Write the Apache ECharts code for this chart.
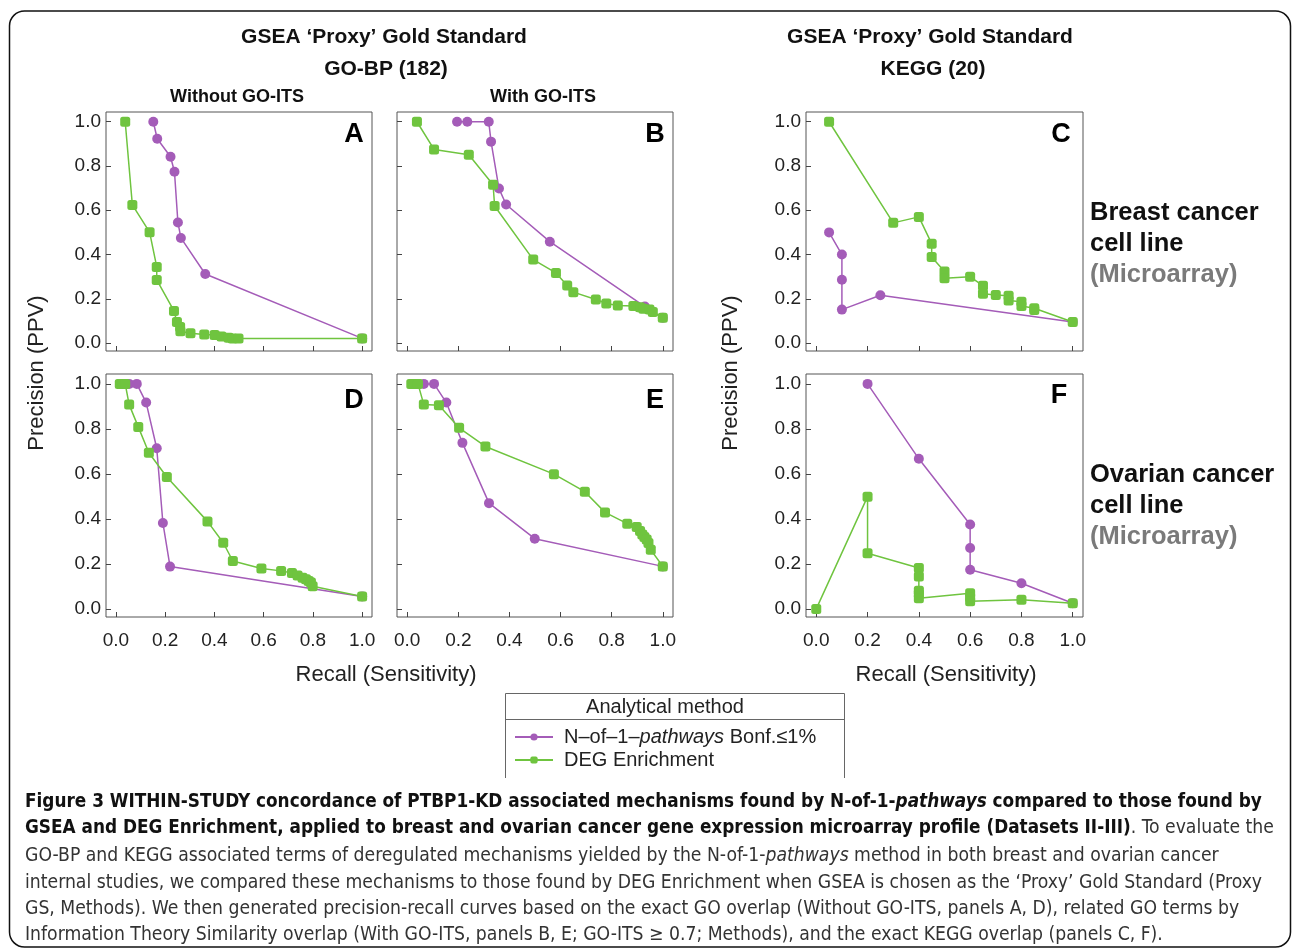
<!DOCTYPE html>
<html lang="en">
<head>
<meta charset="UTF-8">
<title>Precision-recall, PTBP1-KD</title>
<script src="https://cdn.jsdelivr.net/npm/echarts@6/dist/echarts.min.js"></script>
<style>
    html, body { margin: 0; padding: 0; background: #fff; }
    #chart { width: 1293px; height: 952px; }
</style>
</head>
<body>
<div id="chart"></div>
<script>
    // ---- data: [recall, precision] ----
    var tickValues = [0, 0.2, 0.4, 0.6, 0.8, 1.0];
    var seriesNames = ['N–of–1–pathways Bonf.≤1%', 'DEG Enrichment'];
    var panelLetters = ['A', 'B', 'C', 'D', 'E', 'F'];

    // A: GO-BP, without GO-ITS, breast
    var n1A = [[0.152, 1.0], [0.168, 0.923], [0.222, 0.842], [0.238, 0.774], [0.252, 0.545], [0.264, 0.475], [0.363, 0.312], [1.0, 0.021]];
    var degA = [[0.038, 1.0], [0.067, 0.624], [0.137, 0.501], [0.166, 0.344], [0.166, 0.285], [0.236, 0.145], [0.248, 0.095], [0.261, 0.072], [0.262, 0.053],
        [0.303, 0.044], [0.359, 0.039], [0.401, 0.036], [0.429, 0.029], [0.458, 0.024], [0.474, 0.021], [0.498, 0.020], [1.0, 0.021]];
    // B: GO-BP, with GO-ITS, breast
    var n1B = [[0.195, 1.0], [0.235, 1.0], [0.319, 1.0], [0.328, 0.910], [0.359, 0.698], [0.387, 0.626], [0.558, 0.458], [0.93, 0.165], [1.0, 0.114]];
    var degB = [[0.038, 1.0], [0.105, 0.875], [0.241, 0.851], [0.336, 0.715], [0.342, 0.619], [0.493, 0.377], [0.582, 0.317], [0.626, 0.260], [0.650, 0.230],
        [0.738, 0.197], [0.779, 0.179], [0.824, 0.170], [0.885, 0.167], [0.911, 0.162], [0.924, 0.155], [0.948, 0.152], [0.961, 0.140], [1.0, 0.114]];
    // C: KEGG, breast
    var n1C = [[0.05, 0.50], [0.10, 0.40], [0.10, 0.286], [0.10, 0.151], [0.25, 0.216], [1.0, 0.095]];
    var degC = [[0.05, 1.0], [0.30, 0.543], [0.40, 0.570], [0.45, 0.449], [0.45, 0.389], [0.50, 0.323], [0.50, 0.293], [0.60, 0.299], [0.65, 0.259],
        [0.65, 0.223], [0.70, 0.217], [0.75, 0.214], [0.75, 0.192], [0.80, 0.187], [0.80, 0.167], [0.85, 0.157], [0.85, 0.149], [1.0, 0.095]];
    // D: GO-BP, without GO-ITS, ovarian
    var n1D = [[0.054, 1.0], [0.085, 1.0], [0.123, 0.917], [0.166, 0.714], [0.191, 0.382], [0.220, 0.188], [1.0, 0.055]];
    var degD = [[0.016, 1.0], [0.027, 1.0], [0.038, 1.0], [0.054, 0.908], [0.091, 0.809], [0.134, 0.694], [0.207, 0.586], [0.372, 0.389], [0.436, 0.294],
        [0.475, 0.213], [0.591, 0.180], [0.671, 0.169], [0.715, 0.160], [0.738, 0.148], [0.758, 0.139], [0.772, 0.132], [0.783, 0.124], [0.792, 0.117],
        [0.799, 0.101], [1.0, 0.055]];
    // E: GO-BP, with GO-ITS, ovarian
    var n1E = [[0.065, 1.0], [0.105, 1.0], [0.153, 0.917], [0.216, 0.738], [0.320, 0.470], [0.499, 0.312], [1.0, 0.189]];
    var degE = [[0.016, 1.0], [0.026, 1.0], [0.042, 1.0], [0.065, 0.908], [0.124, 0.905], [0.203, 0.805], [0.306, 0.722], [0.574, 0.599], [0.695, 0.521],
        [0.774, 0.429], [0.861, 0.379], [0.898, 0.364], [0.911, 0.346], [0.920, 0.331], [0.928, 0.320], [0.937, 0.308], [0.944, 0.293], [0.953, 0.263], [1.0, 0.189]];
    // F: KEGG, ovarian
    var n1F = [[0.2, 1.0], [0.4, 0.667], [0.6, 0.375], [0.6, 0.271], [0.6, 0.174], [0.8, 0.114], [1.0, 0.025]];
    var degF = [[0.0, 0.0], [0.2, 0.499], [0.2, 0.247], [0.4, 0.182], [0.4, 0.144], [0.4, 0.081], [0.4, 0.067], [0.4, 0.047], [0.6, 0.070], [0.6, 0.052],
        [0.6, 0.034], [0.8, 0.041], [1.0, 0.025]];

    var n1Data = [n1A, n1B, n1C, n1D, n1E, n1F];
    var degData = [degA, degB, degC, degD, degE, degF];

    // ---- layout / style ----
    var FONT = "'Liberation Sans', Arial, sans-serif";
    var CAP_FONT = "'Liberation Sans Narrow', 'DejaVu Sans Condensed', sans-serif";
    var PURPLE = '#a45cb8';
    var GREEN = '#6fc43f';
    var panelBoxes = [
        {left: 106, top: 112, width: 266, height: 239},
        {left: 397, top: 112, width: 276, height: 239},
        {left: 806, top: 112, width: 277, height: 239},
        {left: 106, top: 374, width: 266, height: 243},
        {left: 397, top: 374, width: 276, height: 243},
        {left: 806, top: 374, width: 277, height: 243}
    ];
    var letterPos = [[354, 135], [655, 135], [1061, 135], [354, 401], [655, 401], [1059, 396]];

    var grids = [], xAxes = [], yAxes = [], series = [];
    for (var i = 0; i < 6; i++) {
        grids.push({
            left: panelBoxes[i].left, top: panelBoxes[i].top,
            width: panelBoxes[i].width, height: panelBoxes[i].height,
            show: true, borderColor: '#555', borderWidth: 1, backgroundColor: '#fff'
        });
        xAxes.push({
            type: 'value', gridIndex: i, min: -0.04, max: 1.04,
            axisLine: {show: false, onZero: false}, splitLine: {show: false},
            axisTick: {inside: true, length: 5, customValues: tickValues, lineStyle: {color: '#444'}},
            axisLabel: {
                show: i >= 3, customValues: tickValues, margin: 14,
                fontSize: 19, color: '#222', fontFamily: FONT,
                formatter: function (v) { return v.toFixed(1); }
            }
        });
        yAxes.push({
            type: 'value', gridIndex: i, min: -0.036, max: 1.044,
            axisLine: {show: false, onZero: false}, splitLine: {show: false},
            axisTick: {inside: true, length: 5, customValues: tickValues, lineStyle: {color: '#444'}},
            axisLabel: {
                show: (i !== 1 && i !== 4), customValues: tickValues, margin: 5,
                fontSize: 19, color: '#222', fontFamily: FONT,
                formatter: function (v) { return v.toFixed(1); }
            }
        });
        series.push({
            name: seriesNames[0], type: 'line', xAxisIndex: i, yAxisIndex: i,
            data: n1Data[i], symbol: 'circle', symbolSize: 10, showAllSymbol: true,
            lineStyle: {color: PURPLE, width: 1.5}, itemStyle: {color: PURPLE}, z: 2
        });
        series.push({
            name: seriesNames[1], type: 'line', xAxisIndex: i, yAxisIndex: i,
            data: degData[i], symbol: 'roundRect', symbolSize: 10, showAllSymbol: true,
            lineStyle: {color: GREEN, width: 1.5}, itemStyle: {color: GREEN}, z: 3
        });
    }

    function txt(text, x, y, size, weight, color, align, extra) {
        var el = {
            type: 'text', x: x, y: y, z: 10,
            style: {
                text: text, fontSize: size, fontWeight: weight || 'normal', fontFamily: FONT,
                fill: color || '#111', align: align || 'center', verticalAlign: 'middle',
                textAlign: align || 'center', textVerticalAlign: 'middle'
            }
        };
        if (extra) { for (var k in extra) el[k] = extra[k]; }
        return el;
    }

    var graphics = [];
    // outer rounded frame
    graphics.push({type: 'rect', z: 0, shape: {x: 9.5, y: 11, width: 1281, height: 936, r: 15},
        style: {fill: null, stroke: '#111', lineWidth: 1.5}});
    // headers
    graphics.push(txt('GSEA ‘Proxy’ Gold Standard', 384, 37, 21, 'bold'));
    graphics.push(txt('GO-BP (182)', 386, 69, 21, 'bold'));
    graphics.push(txt('GSEA ‘Proxy’ Gold Standard', 930, 37, 21, 'bold'));
    graphics.push(txt('KEGG (20)', 933, 69, 21, 'bold'));
    graphics.push(txt('Without GO-ITS', 237, 97, 18, 'bold'));
    graphics.push(txt('With GO-ITS', 543, 97, 18, 'bold'));
    // panel letters
    for (var j = 0; j < 6; j++) {
        graphics.push(txt(panelLetters[j], letterPos[j][0], letterPos[j][1], 27, 'bold', '#000'));
    }
    // axis titles
    graphics.push(txt('Precision (PPV)', 37, 373, 22, 'normal', '#222', 'center', {rotation: Math.PI / 2}));
    graphics.push(txt('Precision (PPV)', 731, 373, 22, 'normal', '#222', 'center', {rotation: Math.PI / 2}));
    graphics.push(txt('Recall (Sensitivity)', 386, 675, 22, 'normal', '#222'));
    graphics.push(txt('Recall (Sensitivity)', 946, 675, 22, 'normal', '#222'));
    // row labels
    graphics.push(txt('Breast cancer', 1090, 213, 25.5, 'bold', '#111', 'left'));
    graphics.push(txt('cell line', 1090, 244, 25.5, 'bold', '#111', 'left'));
    graphics.push(txt('(Microarray)', 1090, 275, 25.5, 'bold', '#7a7a7a', 'left'));
    graphics.push(txt('Ovarian cancer', 1090, 475, 25.5, 'bold', '#111', 'left'));
    graphics.push(txt('cell line', 1090, 506, 25.5, 'bold', '#111', 'left'));
    graphics.push(txt('(Microarray)', 1090, 537, 25.5, 'bold', '#7a7a7a', 'left'));
    // legend box
    graphics.push({type: 'polyline', z: 5, shape: {points: [[505.5, 778], [505.5, 693.5], [844.5, 693.5], [844.5, 778]]},
        style: {fill: null, stroke: '#666', lineWidth: 1}});
    graphics.push({type: 'line', z: 5, shape: {x1: 505.5, y1: 719.5, x2: 844.5, y2: 719.5},
        style: {stroke: '#666', lineWidth: 1}});
    graphics.push(txt('Analytical method', 665, 707, 20, 'normal', '#222'));

    // caption
    var capRich = {
        b: {fontFamily: CAP_FONT, fontSize: 18.8, fontWeight: 'bold', fill: '#111', color: '#111'},
        bi: {fontFamily: CAP_FONT, fontSize: 18.8, fontWeight: 'bold', fontStyle: 'italic', fill: '#111', color: '#111'},
        r: {fontFamily: CAP_FONT, fontSize: 19.2, fill: '#333', color: '#333'},
        ri: {fontFamily: CAP_FONT, fontSize: 19.2, fontStyle: 'italic', fill: '#333', color: '#333'}
    };
    var capLines = [
        '{b|Figure 3 WITHIN-STUDY concordance of PTBP1-KD associated mechanisms found by N-of-1-}{bi|pathways}{b| compared to those found by}',
        '{b|GSEA and DEG Enrichment, applied to breast and ovarian cancer gene expression microarray profile (Datasets II-III)}{r|. To evaluate the}',
        '{r|GO-BP and KEGG associated terms of deregulated mechanisms yielded by the N-of-1-}{ri|pathways}{r| method in both breast and ovarian cancer}',
        '{r|internal studies, we compared these mechanisms to those found by DEG Enrichment when GSEA is chosen as the ‘Proxy’ Gold Standard (Proxy}',
        '{r|GS, Methods). We then generated precision-recall curves based on the exact GO overlap (Without GO-ITS, panels A, D), related GO terms by}',
        '{r|Information Theory Similarity overlap (With GO-ITS, panels B, E; GO-ITS ≥ 0.7; Methods), and the exact KEGG overlap (panels C, F).}'
    ];
    var capY = [802, 828, 856, 883, 909, 935];
    for (var c = 0; c < capLines.length; c++) {
        graphics.push({
            type: 'text', x: 25, y: capY[c], z: 10,
            style: {text: capLines[c], rich: capRich, align: 'left', verticalAlign: 'middle',
                textAlign: 'left', textVerticalAlign: 'middle'}
        });
    }

    var chart = echarts.init(document.getElementById('chart'));
    chart.setOption({
        backgroundColor: '#fff',
        animation: false,
        grid: grids,
        xAxis: xAxes,
        yAxis: yAxes,
        series: series,
        legend: {
            data: seriesNames, orient: 'vertical', left: 514, top: 727,
            itemWidth: 38, itemHeight: 9, itemGap: 3, padding: 0,
            formatter: function (name) {
                return name === seriesNames[0] ? '{n|N–of–1–}{it|pathways}{n| Bonf.≤1%}' : '{n|DEG Enrichment}';
            },
            textStyle: {
                fontSize: 20, color: '#222', fontFamily: FONT, padding: [0, 0, 0, 6],
                rich: {
                    n: {fontSize: 20, color: '#222', fontFamily: FONT},
                    it: {fontSize: 20, color: '#222', fontFamily: FONT, fontStyle: 'italic'}
                }
            }
        },
        graphic: graphics
    });
</script>
</body>
</html>
